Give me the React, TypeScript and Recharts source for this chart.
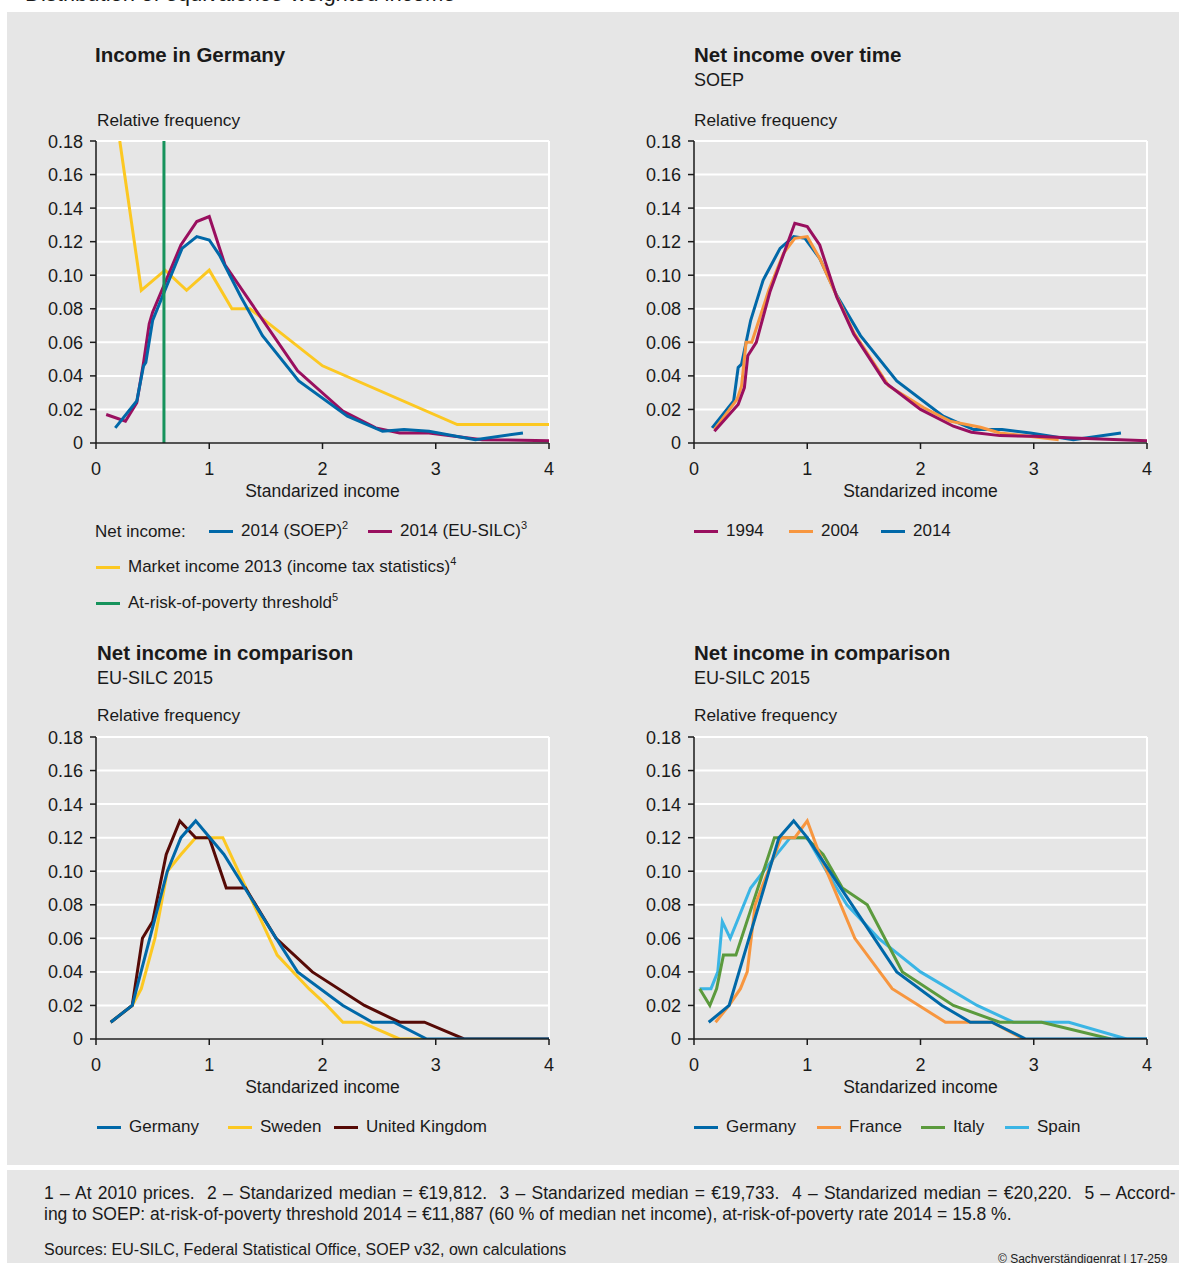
import React from 'react';
import { CartesianGrid, Line, LineChart, ReferenceLine, XAxis, YAxis } from 'recharts';

// x = standardized income, y = relative frequency
const deSoep2014 = [
  { x: 0.17, y: 0.009 }, { x: 0.36, y: 0.025 }, { x: 0.42, y: 0.046 }, { x: 0.44, y: 0.048 },
  { x: 0.5, y: 0.073 }, { x: 0.76, y: 0.116 }, { x: 0.89, y: 0.123 }, { x: 1.0, y: 0.121 },
  { x: 1.09, y: 0.112 }, { x: 1.28, y: 0.087 }, { x: 1.47, y: 0.064 }, { x: 1.79, y: 0.037 },
  { x: 2.22, y: 0.016 }, { x: 2.53, y: 0.007 }, { x: 2.72, y: 0.008 }, { x: 2.94, y: 0.007 },
  { x: 3.35, y: 0.002 }, { x: 3.77, y: 0.006 },
];
const deSilc2014 = [
  { x: 0.09, y: 0.017 }, { x: 0.26, y: 0.013 }, { x: 0.36, y: 0.024 }, { x: 0.42, y: 0.048 },
  { x: 0.47, y: 0.071 }, { x: 0.5, y: 0.078 }, { x: 0.75, y: 0.118 }, { x: 0.89, y: 0.132 },
  { x: 1.0, y: 0.135 }, { x: 1.14, y: 0.106 }, { x: 1.78, y: 0.043 }, { x: 2.18, y: 0.019 },
  { x: 2.47, y: 0.009 }, { x: 2.68, y: 0.006 }, { x: 2.94, y: 0.006 }, { x: 3.41, y: 0.002 },
  { x: 4.0, y: 0.0014 },
];
const marketIncome2013 = [
  { x: 0.21, y: 0.18 }, { x: 0.4, y: 0.091 }, { x: 0.61, y: 0.103 }, { x: 0.8, y: 0.091 },
  { x: 1.0, y: 0.103 }, { x: 1.2, y: 0.08 }, { x: 1.36, y: 0.08 }, { x: 2.0, y: 0.046 },
  { x: 3.19, y: 0.011 }, { x: 4.0, y: 0.011 },
];
const povertyThreshold = 0.6;

const soep1994 = [
  { x: 0.18, y: 0.007 }, { x: 0.39, y: 0.023 }, { x: 0.445, y: 0.033 }, { x: 0.475, y: 0.052 },
  { x: 0.55, y: 0.06 }, { x: 0.67, y: 0.09 }, { x: 0.89, y: 0.131 }, { x: 1.0, y: 0.129 },
  { x: 1.11, y: 0.118 }, { x: 1.26, y: 0.087 }, { x: 1.41, y: 0.065 }, { x: 1.69, y: 0.036 },
  { x: 2.0, y: 0.02 }, { x: 2.29, y: 0.01 }, { x: 2.45, y: 0.0064 }, { x: 2.7, y: 0.0044 },
  { x: 3.0, y: 0.004 }, { x: 3.35, y: 0.003 }, { x: 4.0, y: 0.0014 },
];
const soep2004 = [
  { x: 0.18, y: 0.008 }, { x: 0.38, y: 0.026 }, { x: 0.42, y: 0.034 }, { x: 0.46, y: 0.06 },
  { x: 0.51, y: 0.06 }, { x: 0.66, y: 0.091 }, { x: 0.79, y: 0.113 }, { x: 0.89, y: 0.122 },
  { x: 1.0, y: 0.123 }, { x: 1.11, y: 0.11 }, { x: 1.23, y: 0.092 }, { x: 1.41, y: 0.066 },
  { x: 1.72, y: 0.034 }, { x: 2.03, y: 0.021 }, { x: 2.26, y: 0.013 }, { x: 2.53, y: 0.0094 },
  { x: 2.7, y: 0.006 }, { x: 3.22, y: 0.002 },
];
const soep2014 = [
  { x: 0.16, y: 0.009 }, { x: 0.35, y: 0.025 }, { x: 0.39, y: 0.045 }, { x: 0.42, y: 0.047 },
  { x: 0.5, y: 0.073 }, { x: 0.61, y: 0.097 }, { x: 0.76, y: 0.116 }, { x: 0.88, y: 0.123 },
  { x: 0.98, y: 0.122 }, { x: 1.11, y: 0.11 }, { x: 1.26, y: 0.088 }, { x: 1.47, y: 0.064 },
  { x: 1.79, y: 0.037 }, { x: 2.2, y: 0.016 }, { x: 2.47, y: 0.008 }, { x: 2.72, y: 0.008 },
  { x: 2.97, y: 0.006 }, { x: 3.35, y: 0.002 }, { x: 3.77, y: 0.006 },
];

const germanyA = [
  { x: 0.13, y: 0.01 }, { x: 0.32, y: 0.02 }, { x: 0.63, y: 0.1 }, { x: 0.75, y: 0.12 },
  { x: 0.88, y: 0.13 }, { x: 1.13, y: 0.11 }, { x: 1.59, y: 0.06 }, { x: 1.78, y: 0.04 },
  { x: 2.18, y: 0.02 }, { x: 2.44, y: 0.01 }, { x: 2.63, y: 0.01 }, { x: 2.92, y: 0 }, { x: 4.0, y: 0 },
];
const sweden = [
  { x: 0.13, y: 0.01 }, { x: 0.32, y: 0.02 }, { x: 0.4, y: 0.03 }, { x: 0.52, y: 0.06 },
  { x: 0.63, y: 0.1 }, { x: 0.75, y: 0.11 }, { x: 0.88, y: 0.12 }, { x: 1.12, y: 0.12 },
  { x: 1.6, y: 0.05 }, { x: 1.88, y: 0.03 }, { x: 2.04, y: 0.02 }, { x: 2.18, y: 0.01 },
  { x: 2.34, y: 0.01 }, { x: 2.68, y: 0 }, { x: 2.92, y: 0 },
];
const unitedKingdom = [
  { x: 0.13, y: 0.01 }, { x: 0.32, y: 0.02 }, { x: 0.41, y: 0.06 }, { x: 0.5, y: 0.07 },
  { x: 0.62, y: 0.11 }, { x: 0.74, y: 0.13 }, { x: 0.88, y: 0.12 }, { x: 1.0, y: 0.12 },
  { x: 1.15, y: 0.09 }, { x: 1.32, y: 0.09 }, { x: 1.59, y: 0.06 }, { x: 1.91, y: 0.04 },
  { x: 2.37, y: 0.02 }, { x: 2.68, y: 0.01 }, { x: 2.9, y: 0.01 }, { x: 3.25, y: 0 }, { x: 4.0, y: 0 },
];

const germanyB = [
  { x: 0.13, y: 0.01 }, { x: 0.31, y: 0.02 }, { x: 0.75, y: 0.12 }, { x: 0.88, y: 0.13 },
  { x: 1.0, y: 0.12 }, { x: 1.79, y: 0.04 }, { x: 2.19, y: 0.02 }, { x: 2.44, y: 0.01 },
  { x: 2.63, y: 0.01 }, { x: 2.93, y: 0 }, { x: 4.0, y: 0 },
];
const france = [
  { x: 0.19, y: 0.01 }, { x: 0.31, y: 0.02 }, { x: 0.41, y: 0.03 }, { x: 0.47, y: 0.04 },
  { x: 0.54, y: 0.08 }, { x: 0.77, y: 0.12 }, { x: 0.89, y: 0.12 }, { x: 1.0, y: 0.13 },
  { x: 1.11, y: 0.11 }, { x: 1.42, y: 0.06 }, { x: 1.75, y: 0.03 }, { x: 2.22, y: 0.01 },
  { x: 2.63, y: 0.01 }, { x: 2.91, y: 0 },
];
const italy = [
  { x: 0.05, y: 0.03 }, { x: 0.14, y: 0.02 }, { x: 0.2, y: 0.03 }, { x: 0.26, y: 0.05 },
  { x: 0.37, y: 0.05 }, { x: 0.71, y: 0.12 }, { x: 0.99, y: 0.12 }, { x: 1.14, y: 0.11 },
  { x: 1.31, y: 0.09 }, { x: 1.53, y: 0.08 }, { x: 1.84, y: 0.04 }, { x: 2.29, y: 0.02 },
  { x: 2.7, y: 0.01 }, { x: 3.07, y: 0.01 }, { x: 3.68, y: 0 },
];
const spain = [
  { x: 0.05, y: 0.03 }, { x: 0.15, y: 0.03 }, { x: 0.21, y: 0.04 }, { x: 0.25, y: 0.07 },
  { x: 0.32, y: 0.06 }, { x: 0.5, y: 0.09 }, { x: 0.73, y: 0.11 }, { x: 0.85, y: 0.12 },
  { x: 1.0, y: 0.12 }, { x: 1.17, y: 0.1 }, { x: 1.35, y: 0.08 }, { x: 1.63, y: 0.06 },
  { x: 2.0, y: 0.04 }, { x: 2.5, y: 0.02 }, { x: 2.82, y: 0.01 }, { x: 3.31, y: 0.01 },
  { x: 3.82, y: 0 }, { x: 4.0, y: 0 },
];

const xTicks = [0, 1, 2, 3, 4];
const yTicks = [0, 0.02, 0.04, 0.06, 0.08, 0.1, 0.12, 0.14, 0.16, 0.18];

const BG = '#e6e6e6';
const INK = '#1a1a1a';
const FONT = '"Liberation Sans", Arial, sans-serif';
const BLUE = '#0068a8';
const PURPLE = '#990f5f';
const YELLOW = '#fcc822';
const GREEN = '#16935c';
const ORANGE = '#f7963f';
const BROWN = '#560a06';
const OLIVE = '#5b9a3d';
const SKY = '#3bb5e5';

type Series = { name: string; data: { x: number; y: number }[]; color: string };

const PLOT_W = 453;
const PLOT_H = 302;
const AXIS_W = 90;

function Panel({ left, top, series, threshold }: { left: number; top: number; series: Series[]; threshold?: number }) {
  return (
    <div style={{ position: 'absolute', left: left - AXIS_W, top: top - 10 }}>
      <LineChart width={AXIS_W + PLOT_W + 15} height={10 + PLOT_H + 40} margin={{ top: 10, right: 15, bottom: 0, left: 0 }}>
        <CartesianGrid vertical={false} stroke="#fff" strokeWidth={2} />
        <ReferenceLine x={4} stroke="#fff" strokeWidth={2} />
        <XAxis
          type="number"
          dataKey="x"
          domain={[0, 4]}
          ticks={xTicks}
          allowDataOverflow
          height={40}
          tickSize={6}
          tickMargin={13}
          axisLine={{ stroke: INK, strokeWidth: 1.5 }}
          tickLine={{ stroke: INK, strokeWidth: 1.5 }}
          tick={{ fill: INK, fontSize: 18 }}
        />
        <YAxis
          type="number"
          domain={[0, 0.18]}
          ticks={yTicks}
          allowDataOverflow
          width={AXIS_W}
          tickSize={6}
          tickMargin={7}
          tickFormatter={(v: number) => (v === 0 ? '0' : v.toFixed(2))}
          axisLine={{ stroke: INK, strokeWidth: 1.5 }}
          tickLine={{ stroke: INK, strokeWidth: 1.5 }}
          tick={{ fill: INK, fontSize: 18 }}
        />
        {series.map((s) => (
          <Line
            key={s.name}
            data={s.data}
            dataKey="y"
            type="linear"
            stroke={s.color}
            strokeWidth={3}
            dot={false}
            activeDot={false}
            isAnimationActive={false}
          />
        ))}
        {threshold !== undefined && <ReferenceLine x={threshold} stroke={GREEN} strokeWidth={3} />}
      </LineChart>
    </div>
  );
}

function Text({ left, top, size = 17, bold = false, spacing = 0, children }: { left: number; top: number; size?: number; bold?: boolean; spacing?: number; children: React.ReactNode }) {
  return (
    <div style={{ position: 'absolute', left, top, fontSize: size, fontWeight: bold ? 700 : 400, lineHeight: 1, whiteSpace: 'pre', wordSpacing: spacing, color: INK }}>
      {children}
    </div>
  );
}

function Key({ left, top, color, children }: { left: number; top: number; color: string; children: React.ReactNode }) {
  return (
    <div style={{ position: 'absolute', left, top, display: 'flex', alignItems: 'center', fontSize: 17, lineHeight: '20px', whiteSpace: 'pre', color: INK }}>
      <span style={{ display: 'inline-block', width: 24, height: 3, background: color, marginRight: 8 }} />
      <span>{children}</span>
    </div>
  );
}

const Sup = ({ children }: { children: React.ReactNode }) => (
  <sup style={{ fontSize: 11, lineHeight: 0 }}>{children}</sup>
);

function XLabel({ left, top }: { left: number; top: number }) {
  return (
    <div style={{ position: 'absolute', left, top, width: PLOT_W, textAlign: 'center', fontSize: 17.5, lineHeight: 1, color: INK }}>
      Standarized income
    </div>
  );
}

export default function App() {
  const topLeft: Series[] = [
    { name: 'Market income 2013', data: marketIncome2013, color: YELLOW },
    { name: '2014 (EU-SILC)', data: deSilc2014, color: PURPLE },
    { name: '2014 (SOEP)', data: deSoep2014, color: BLUE },
  ];
  const topRight: Series[] = [
    { name: '2014', data: soep2014, color: BLUE },
    { name: '2004', data: soep2004, color: ORANGE },
    { name: '1994', data: soep1994, color: PURPLE },
  ];
  const bottomLeft: Series[] = [
    { name: 'Sweden', data: sweden, color: YELLOW },
    { name: 'United Kingdom', data: unitedKingdom, color: BROWN },
    { name: 'Germany', data: germanyA, color: BLUE },
  ];
  const bottomRight: Series[] = [
    { name: 'Spain', data: spain, color: SKY },
    { name: 'Italy', data: italy, color: OLIVE },
    { name: 'France', data: france, color: ORANGE },
    { name: 'Germany', data: germanyB, color: BLUE },
  ];

  return (
    <div style={{ position: 'absolute', left: 0, top: 0, width: 1179, height: 1263, overflow: 'hidden', background: '#fff', fontFamily: FONT, color: INK }}>
      <div style={{ position: 'absolute', left: 25, top: -17, fontSize: 22, lineHeight: '22px', whiteSpace: 'pre' }}>
        Distribution of equivalence-weighted income
      </div>
      <div style={{ position: 'absolute', left: 7, top: 12, width: 1172, height: 1153, background: BG }} />
      <div style={{ position: 'absolute', left: 7, top: 1170, width: 1172, height: 93, background: BG }} />

      {/* top left */}
      <Text left={95} top={45} size={20.5} bold>Income in Germany</Text>
      <Text left={97} top={112} size={17.3}>Relative frequency</Text>
      <Panel left={96} top={141} series={topLeft} threshold={povertyThreshold} />
      <XLabel left={96} top={483} />
      <Text left={95} top={523}>Net income:</Text>
      <Key left={209} top={521} color={BLUE}>2014 (SOEP)<Sup>2</Sup></Key>
      <Key left={368} top={521} color={PURPLE}>2014 (EU-SILC)<Sup>3</Sup></Key>
      <Key left={96} top={557} color={YELLOW}>Market income 2013 (income tax statistics)<Sup>4</Sup></Key>
      <Key left={96} top={593} color={GREEN}>At-risk-of-poverty threshold<Sup>5</Sup></Key>

      {/* top right */}
      <Text left={694} top={45} size={20.5} bold>Net income over time</Text>
      <Text left={694} top={71} size={18}>SOEP</Text>
      <Text left={694} top={112} size={17.3}>Relative frequency</Text>
      <Panel left={694} top={141} series={topRight} />
      <XLabel left={694} top={483} />
      <Key left={694} top={521} color={PURPLE}>1994</Key>
      <Key left={789} top={521} color={ORANGE}>2004</Key>
      <Key left={881} top={521} color={BLUE}>2014</Key>

      {/* bottom left */}
      <Text left={97} top={643} size={20.5} bold>Net income in comparison</Text>
      <Text left={97} top={669} size={18}>EU-SILC 2015</Text>
      <Text left={97} top={707} size={17.3}>Relative frequency</Text>
      <Panel left={96} top={737} series={bottomLeft} />
      <XLabel left={96} top={1079} />
      <Key left={97} top={1117} color={BLUE}>Germany</Key>
      <Key left={228} top={1117} color={YELLOW}>Sweden</Key>
      <Key left={334} top={1117} color={BROWN}>United Kingdom</Key>

      {/* bottom right */}
      <Text left={694} top={643} size={20.5} bold>Net income in comparison</Text>
      <Text left={694} top={669} size={18}>EU-SILC 2015</Text>
      <Text left={694} top={707} size={17.3}>Relative frequency</Text>
      <Panel left={694} top={737} series={bottomRight} />
      <XLabel left={694} top={1079} />
      <Key left={694} top={1117} color={BLUE}>Germany</Key>
      <Key left={817} top={1117} color={ORANGE}>France</Key>
      <Key left={921} top={1117} color={OLIVE}>Italy</Key>
      <Key left={1005} top={1117} color={SKY}>Spain</Key>

      {/* footnotes */}
      <Text left={44} top={1185} size={17.5} spacing={1.4}>
        1 – At 2010 prices.  2 – Standarized median = €19,812.  3 – Standarized median = €19,733.  4 – Standarized median = €20,220.  5 – Accord-
      </Text>
      <Text left={44} top={1206} size={17.5}>
        ing to SOEP: at-risk-of-poverty threshold 2014 = €11,887 (60 % of median net income), at-risk-of-poverty rate 2014 = 15.8 %.
      </Text>
      <Text left={44} top={1242} size={16}>Sources: EU-SILC, Federal Statistical Office, SOEP v32, own calculations</Text>
      <div style={{ position: 'absolute', left: 998, top: 1252, fontSize: 12, whiteSpace: 'pre', color: INK }}>
        © Sachverständigenrat | 17-259
      </div>
    </div>
  );
}
